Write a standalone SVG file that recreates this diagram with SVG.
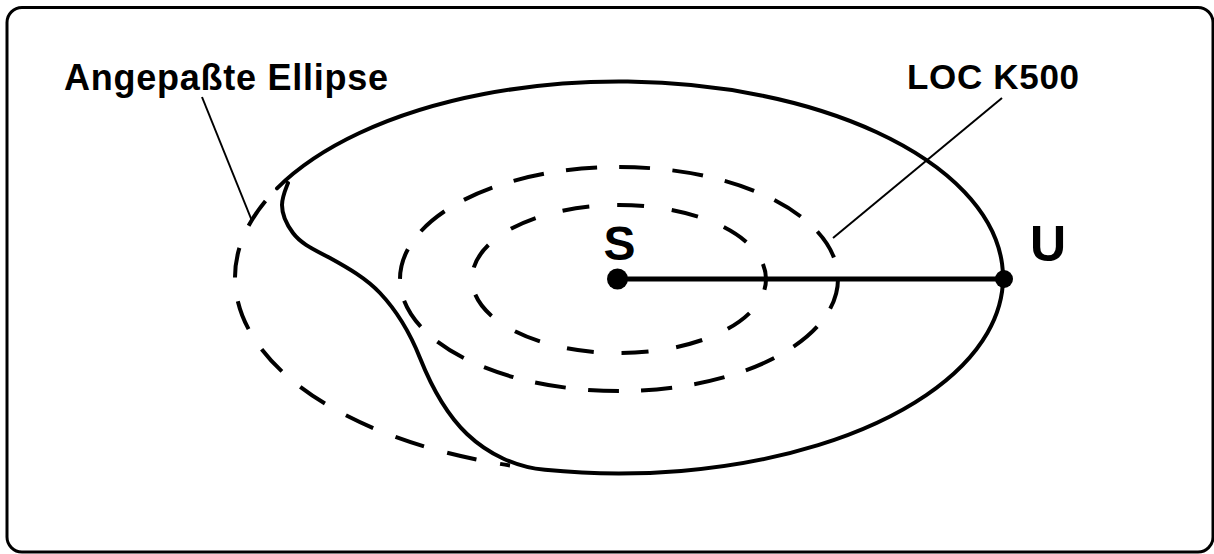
<svg xmlns="http://www.w3.org/2000/svg" width="1214" height="554" viewBox="0 0 1214 554">
  <style>
    .frame { fill: #ffffff; stroke: #000; stroke-width: 3; }
    .solid { fill: none; stroke: #000; stroke-width: 4; stroke-linejoin: round; stroke-linecap: round; }
    .dash { fill: none; stroke: #000; stroke-width: 4; }
    .ptr { fill: none; stroke: #000; stroke-width: 2; }
    .lbl { font-family: "Liberation Sans", Arial, sans-serif; font-weight: bold; fill: #000; }
  </style>
  <rect width="1214" height="554" fill="#ffffff"/>
  <rect id="frame" class="frame" x="7" y="7.5" width="1206" height="544.5" rx="15" ry="15"/>

  <g id="fitted-ellipse">
    <path class="dash" d="M 282 183.54 A 384 196 0 0 0 510 465.44" stroke-dasharray="30 24" stroke-dashoffset="30"/>
  </g>

  <g id="loc-middle">
    <ellipse class="dash" cx="619" cy="279" rx="219" ry="112" stroke-dasharray="31 22.35"/>
  </g>

  <g id="loc-inner">
    <ellipse class="dash" cx="619" cy="279" rx="147" ry="74" stroke-dasharray="27 27.88" stroke-dashoffset="16"/>
  </g>

  <g id="loc-k500">
    <path class="solid" d="M 277 188.37 A 384 196 0 1 1 545 469.83
      C 516 467.4, 488 454, 467 434
      C 445.5 413.5, 431 385.6, 420 358
      C 410.6 334.4, 397.4 311.5, 380 293
      C 366 278.2, 347.8 267.8, 330 258
      C 317 250.8, 301.9 244.9, 293 233
      C 287 225, 282 215, 282 205
      C 282 197.4, 285.2 190.1, 288 183"/>
  </g>

  <g id="connectors">
    <line id="radius-SU" x1="618" y1="279" x2="1004" y2="279" stroke="#000" stroke-width="5"/>
    <line id="ptr-ellipse" class="ptr" x1="202" y1="97" x2="252" y2="221"/>
    <line id="ptr-loc" class="ptr" x1="1002" y1="98" x2="833" y2="238"/>
  </g>

  <g id="node-S">
    <circle cx="617.5" cy="279" r="10.5" fill="#000"/>
    <text class="lbl" x="603.5" y="259.5" font-size="48">S</text>
  </g>

  <g id="node-U">
    <circle cx="1004" cy="279" r="9" fill="#000"/>
    <text class="lbl" x="1030" y="261" font-size="50">U</text>
  </g>

  <g id="label-ellipse">
    <text class="lbl" x="64" y="89.5" font-size="36" textLength="324" lengthAdjust="spacing">Angepaßte Ellipse</text>
  </g>

  <g id="label-loc">
    <text class="lbl" x="907" y="89.3" font-size="35" textLength="172" lengthAdjust="spacing">LOC K500</text>
  </g>
</svg>
